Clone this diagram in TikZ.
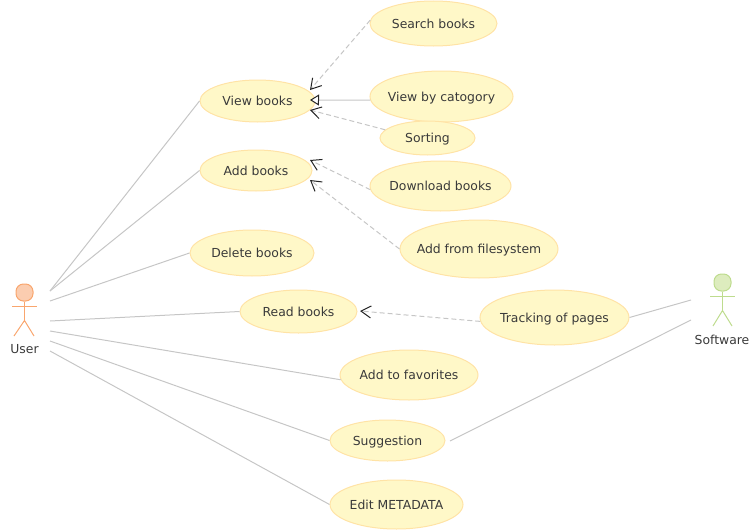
\documentclass[tikz,border=0pt]{standalone}
\usepackage{fontspec}
\setmainfont{DejaVu Sans}
\usetikzlibrary{arrows.meta,shapes.geometric}
\definecolor{casefill}{HTML}{FFF8C8}
\definecolor{casedraw}{HTML}{FFE3A6}
\definecolor{linkgray}{HTML}{C6C6C6}
\definecolor{textgray}{HTML}{3A3A3A}
\definecolor{userdraw}{HTML}{F9A66E}
\definecolor{userfill}{HTML}{FBCDB0}
\definecolor{softdraw}{HTML}{BEDC8E}
\definecolor{softfill}{HTML}{DDECBE}
\begin{document}
\begin{tikzpicture}[
    x=1pt, y=-1pt,
    every node/.style={font=\fontsize{12.4}{14}\selectfont, text=textgray},
    usecase/.style={
        ellipse,
        draw=casedraw,
        fill=casefill,
        line width=1pt,
        text depth=0pt,
        inner sep=-12pt
    },
    head/.style={
        rounded corners=7.5pt,
        line width=1pt,
        minimum size=17pt,
        inner sep=0pt
    },
    limb/.style={line width=1pt},
    link/.style={draw=linkgray, line width=1pt},
    dep/.style={link, dash pattern=on 5pt off 3pt, -{Straight Barb[length=10pt,width=12pt,color=black!85,line width=1pt]}},
    gen/.style={link, -{Triangle[open,length=9pt,width=11pt,color=black!85,fill=white,line width=1pt]}}
]
    \useasboundingbox (0,0) rectangle (756,530);

    % use cases
    \node[usecase, minimum width=127pt, minimum height=45pt] (search) at (433.5,23.5) {Search books};
    \node[usecase, minimum width=143pt, minimum height=51pt] (catogory) at (441.5,96.5) {View by catogory};
    \node[usecase, minimum width=95pt, minimum height=34pt] (sorting) at (427.5,138) {Sorting};
    \node[usecase, minimum width=115pt, minimum height=42pt] (view) at (257.5,101) {View books};
    \node[usecase, minimum width=112pt, minimum height=41pt] (add) at (256,170.5) {Add books};
    \node[usecase, minimum width=141pt, minimum height=50pt] (download) at (440.5,186) {Download books};
    \node[usecase, minimum width=158pt, minimum height=58pt] (filesystem) at (479,249) {Add from filesystem};
    \node[usecase, minimum width=124pt, minimum height=46pt] (delete) at (252,253) {Delete books};
    \node[usecase, minimum width=117pt, minimum height=43pt] (read) at (298.5,311.5) {Read books};
    \node[usecase, minimum width=149pt, minimum height=55pt] (tracking) at (554.5,317.5) {Tracking of pages};
    \node[usecase, minimum width=138pt, minimum height=50pt] (favorites) at (409,375) {Add to favorites};
    \node[usecase, minimum width=115pt, minimum height=41pt] (suggestion) at (387.5,440.5) {Suggestion};
    \node[usecase, minimum width=133pt, minimum height=49pt] (metadata) at (396.5,504.5) {Edit METADATA};

    % actors
    \node[head, draw=userdraw, fill=userfill] (userhead) at (24.5,292.5) {};
    \draw[limb, draw=userdraw] (12,306) -- (37,306);
    \draw[limb, draw=userdraw] (userhead.south) -- (24.5,320.5);
    \draw[limb, draw=userdraw] (14,336) -- (24.5,320.5) -- (34,336);
    \node (user) at (24.5,349.5) {User};

    \node[head, draw=softdraw, fill=softfill] (softhead) at (722.5,282.5) {};
    \draw[limb, draw=softdraw] (710,296) -- (735,296);
    \draw[limb, draw=softdraw] (softhead.south) -- (722.5,310.5);
    \draw[limb, draw=softdraw] (713,326) -- (722.5,310.5) -- (732,326);
    \node (software) at (722,339.5) {Software};

    % free ends
    \coordinate (usera) at (50,291);
    \coordinate (userb) at (50,301);
    \coordinate (userc) at (50,321);
    \coordinate (userd) at (50,331);
    \coordinate (usere) at (50,341);
    \coordinate (userf) at (50,351);
    \coordinate (softa) at (691,300);
    \coordinate (softb) at (691,320);
    \coordinate (suggend) at (450,441);
    \coordinate (tipsearch) at (310,90);
    \coordinate (tipcat) at (310,100);
    \coordinate (tipsort) at (310,110);
    \coordinate (tipdown) at (310,160);
    \coordinate (tipfile) at (310,180);
    \coordinate (tipread) at (360,311);

    \draw[link] (usera) -- (view.west);
    \draw[link] (usera) -- (add.west);
    \draw[link] (userb) -- (delete.west);
    \draw[link] (userc) -- (read.west);
    \draw[link] (userd) -- (favorites.184);
    \draw[link] (usere) -- (suggestion.west);
    \draw[link] (userf) -- (metadata.west);

    \draw[link] (tracking.east) -- (softa);
    \draw[link] (suggend) -- (softb);

    \draw[dep] (search.177) -- (tipsearch);
    \draw[gen] (catogory.183) -- (tipcat);
    \draw[dep] (sorting.169) -- (tipsort);
    \draw[dep] (download.183) -- (tipdown);
    \draw[dep] (filesystem.west) -- (tipfile);
    \draw[dep] (tracking.183) -- (tipread);
\end{tikzpicture}
\end{document}
